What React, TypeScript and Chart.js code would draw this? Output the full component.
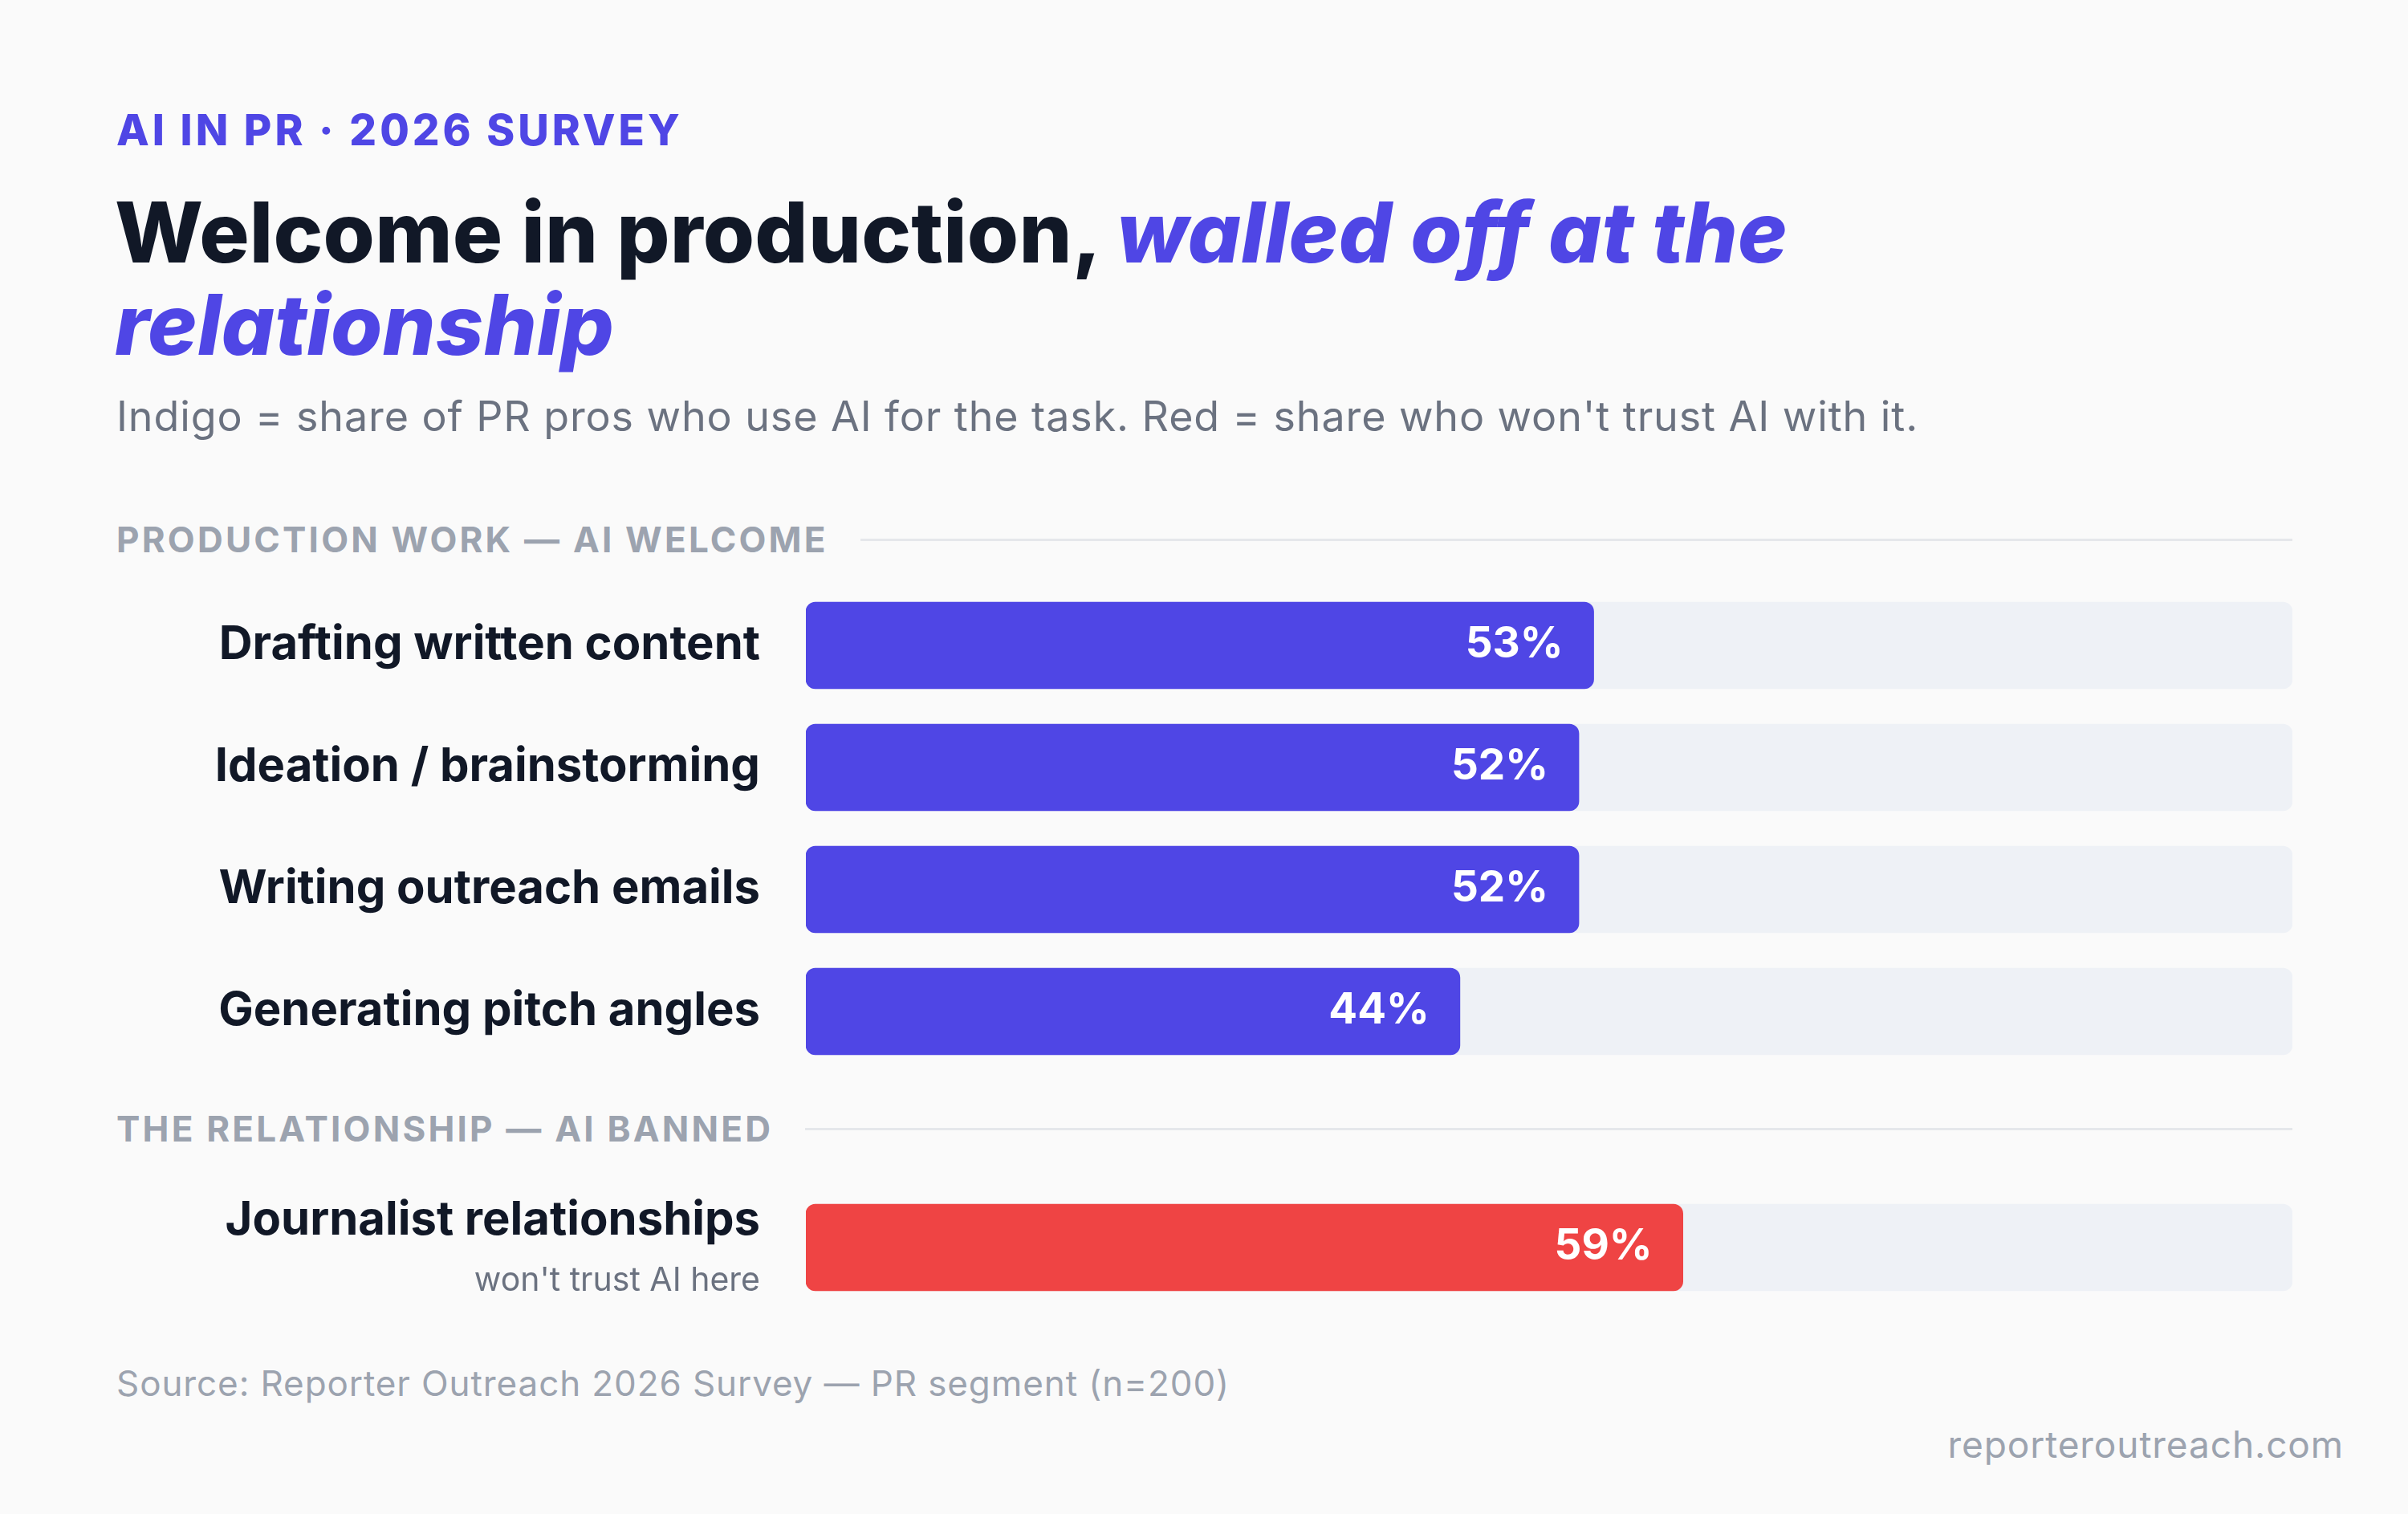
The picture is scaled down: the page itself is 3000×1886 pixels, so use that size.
import React, { useEffect, useRef } from "react";
import { Chart, registerables } from "chart.js";

Chart.register(...registerables);

// ---- data ----
const productionTasks = [
  "Drafting written content",
  "Ideation / brainstorming",
  "Writing outreach emails",
  "Generating pitch angles",
];
const productionUse = [53, 52, 52, 44];

const relationshipTasks = ["Journalist relationships"];
const relationshipDistrust = [59];
const relationshipNotes = ["won't trust AI here"];

const scaleMax = 100;

// ---- styling ----
const FONT = "Inter, 'Noto Sans', sans-serif";
const INDIGO = "#4f46e5";
const RED = "#ef4444";
const TRACK = "#eef1f6";
const INK = "#111827";
const MUTED = "#6b7280";
const FAINT = "#9ca3af";
const RULE = "#e5e7eb";

const LABEL_GAP = 57;
const AXIS_WIDTH = 1004;
const BAR_THICKNESS = 108;

const valueLabelPlugin = {
  id: "valueLabels",
  afterDatasetsDraw(chart: any) {
    const ctx = chart.ctx;
    const meta = chart.getDatasetMeta(0);
    const values = chart.data.datasets[0].data as number[];
    ctx.save();
    ctx.fillStyle = "#ffffff";
    ctx.font = `700 53px ${FONT}`;
    ctx.textAlign = "right";
    ctx.textBaseline = "middle";
    meta.data.forEach((bar: any, i: number) => {
      ctx.fillText(`${values[i]}%`, bar.x - 38, bar.y - 1);
    });
    ctx.restore();
  },
};

function makeNotesPlugin(notes?: string[]) {
  return {
    id: "rowNotes",
    afterDraw(chart: any) {
      if (!notes) return;
      const ctx = chart.ctx;
      const yScale = chart.scales.y;
      ctx.save();
      ctx.fillStyle = MUTED;
      ctx.font = `400 41px ${FONT}`;
      ctx.textAlign = "right";
      ctx.textBaseline = "alphabetic";
      notes.forEach((note, i) => {
        const y = yScale.getPixelForTick(i) + BAR_THICKNESS / 2;
        ctx.fillText(note, yScale.right - LABEL_GAP, y);
      });
      ctx.restore();
    },
  };
}

type PanelProps = {
  labels: string[];
  values: number[];
  color: string;
  notes?: string[];
  top: number;
  height: number;
};

function BarPanel({ labels, values, color, notes, top, height }: PanelProps) {
  const ref = useRef<HTMLCanvasElement>(null);

  useEffect(() => {
    if (!ref.current) return;
    const barStyle = {
      grouped: false,
      barThickness: BAR_THICKNESS,
      borderRadius: 12,
      borderSkipped: false,
    };
    const chart = new Chart(ref.current, {
      type: "bar",
      data: {
        labels: notes ? labels.map((l) => [l, ""]) : labels,
        datasets: [
          { data: values, backgroundColor: color, ...barStyle },
          { data: values.map(() => scaleMax), backgroundColor: TRACK, ...barStyle },
        ],
      },
      options: {
        indexAxis: "y",
        responsive: false,
        animation: false,
        devicePixelRatio: 1,
        layout: { padding: { left: 0, right: 44, top: 0, bottom: 0 } },
        plugins: {
          legend: { display: false },
          tooltip: { enabled: false },
        },
        scales: {
          x: { display: false, min: 0, max: scaleMax },
          y: {
            position: "left",
            border: { display: false },
            grid: { display: false, drawTicks: false },
            ticks: {
              color: INK,
              padding: LABEL_GAP,
              crossAlign: "near",
              font: { family: FONT, size: 58, weight: "700", lineHeight: 1.14 },
            },
            afterFit: (scale: any) => {
              // fixed label column; bands use the full canvas height
              scale.width = AXIS_WIDTH;
              scale.paddingTop = 0;
              scale.paddingBottom = 0;
            },
          },
        },
      } as any,
      plugins: [valueLabelPlugin, makeNotesPlugin(notes)],
    });
    return () => chart.destroy();
  }, []);

  return (
    <canvas
      ref={ref}
      width={2900}
      height={height}
      style={{ position: "absolute", left: 0, top, width: 2900, height }}
    />
  );
}

function SectionHeader({ text, top }: { text: string; top: number }) {
  return (
    <div
      style={{
        position: "absolute",
        left: 145,
        top,
        width: 2856 - 145,
        height: 44,
        display: "flex",
        alignItems: "center",
      }}
    >
      <span
        style={{
          fontFamily: FONT,
          fontWeight: 700,
          fontSize: 44,
          lineHeight: "44px",
          letterSpacing: "3.2px",
          color: FAINT,
          whiteSpace: "nowrap",
        }}
      >
        {text}
      </span>
      <div style={{ flex: 1, height: 3, background: RULE, marginLeft: 40 }} />
    </div>
  );
}

export default function App() {
  return (
    <div
      style={{
        position: "absolute",
        left: 0,
        top: 0,
        width: 3000,
        height: 1886,
        background: "#fafafa",
        overflow: "hidden",
        fontFamily: FONT,
      }}
    >
      <div
        style={{
          position: "absolute",
          left: 145,
          top: 136,
          fontSize: 53,
          lineHeight: "53px",
          fontWeight: 800,
          letterSpacing: "4.0px",
          color: INDIGO,
          whiteSpace: "nowrap",
        }}
      >
        AI IN PR · 2026 SURVEY
      </div>

      <div
        style={{
          position: "absolute",
          left: 143,
          top: 232,
          fontSize: 104,
          lineHeight: "115px",
          fontWeight: 800,
          letterSpacing: "0.2px",
          color: INK,
          whiteSpace: "nowrap",
        }}
      >
        Welcome in production,{" "}
        <span style={{ color: INDIGO, fontStyle: "italic" }}>walled off at the</span>
        <br />
        <span style={{ color: INDIGO, fontStyle: "italic" }}>relationship</span>
      </div>

      <div
        style={{
          position: "absolute",
          left: 145,
          top: 493,
          fontSize: 52,
          lineHeight: "52px",
          fontWeight: 400,
          letterSpacing: "0.9px",
          color: MUTED,
          whiteSpace: "nowrap",
        }}
      >
        Indigo = share of PR pros who use AI for the task. Red = share who won't trust AI with it.
      </div>

      <SectionHeader text="PRODUCTION WORK — AI WELCOME" top={650} />
      <BarPanel
        labels={productionTasks}
        values={productionUse}
        color={INDIGO}
        top={728}
        height={608}
      />

      <SectionHeader text="THE RELATIONSHIP — AI BANNED" top={1384} />
      <BarPanel
        labels={relationshipTasks}
        values={relationshipDistrust}
        color={RED}
        notes={relationshipNotes}
        top={1478}
        height={152}
      />

      <div
        style={{
          position: "absolute",
          left: 145,
          top: 1701,
          fontSize: 44,
          lineHeight: "44px",
          letterSpacing: "0.9px",
          color: FAINT,
          whiteSpace: "nowrap",
        }}
      >
        Source: Reporter Outreach 2026 Survey — PR segment (n=200)
      </div>

      <div
        style={{
          position: "absolute",
          right: 80,
          top: 1776,
          fontSize: 46,
          lineHeight: "46px",
          letterSpacing: "0.9px",
          color: FAINT,
          whiteSpace: "nowrap",
        }}
      >
        reporteroutreach.com
      </div>
    </div>
  );
}
